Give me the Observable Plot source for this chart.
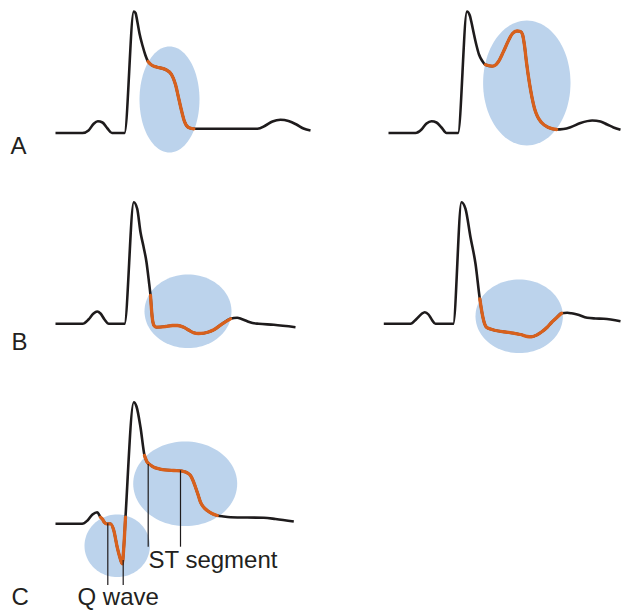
<!DOCTYPE html>
<html>
<head>
<meta charset="utf-8">
<script src="https://cdn.jsdelivr.net/npm/d3@7"></script>
<script src="https://cdn.jsdelivr.net/npm/@observablehq/plot@0.6"></script>
<style>
  html, body { margin: 0; padding: 0; background: #fff; }
  #chart svg { display: block; }
</style>
</head>
<body>
<div id="chart"></div>
<script>
// ---- ECG traces (x, y in drawing units; y grows downward) ----
// Panel A, left
const aLeftPre  = [[55,132.5],[82,132.5],[88,130],[93,123.5],[97.3,120.7],[102,122],[107,128],[111.5,132.5],[124,132.5],[133.3,11],[135,12.5],[137,22],[139,33],[142,45],[145,55],[147.5,61]];
const aLeftST   = [[147.5,61],[151,64.5],[156,66.5],[165,69],[171,74],[175,84],[178,97],[181,110],[184,121],[188,127],[193.3,128.3]];
const aLeftPost = [[193.3,128.3],[257,128.3],[265,125],[272,121],[280,119.3],[288,120.5],[296,124],[303,128],[310,130]];
// Panel A, right
const aRightPre  = [[388,132.5],[415,132.5],[421,129],[426,123],[431,120.7],[436,122],[441,127],[446,132.5],[457.5,132.5],[466.5,11],[469.3,15],[471,22],[473.3,33],[476,45],[478.5,54],[481.5,60],[485,64.3]];
const aRightST   = [[485,64.3],[491.7,65.7],[495,64.5],[498,61],[503,51],[508,40],[512,33],[516.5,30.5],[520,31],[522,34],[524,45],[526,62],[529,83],[531.5,97],[534,108],[537,116],[541,122],[548,127],[556,129]];
const aRightPost = [[556,129],[563,128.5],[570,126.7],[580,122.5],[591.7,120],[600,121],[606.7,124],[613,127],[620,129.3]];
// Panel B, left
const bLeftPre  = [[55,323.3],[82,323.3],[88,319],[93,313],[96.7,311],[100,313],[104,319],[108.3,323.3],[124,323.3],[133.3,201.7],[136.7,208.3],[140,231.7],[143,246],[146,261.7],[148.3,280],[150,295]];
const bLeftST   = [[150,295],[151.7,316.7],[153.5,325],[156,326.7],[165,326],[172,325],[177,325],[183.3,326.7],[188,329.5],[193.3,332.3],[198,333],[203.3,332.7],[208,331.5],[213.3,329.3],[221.7,323.3],[230,318.3]];
const bLeftPost = [[230,318.3],[236.7,317.3],[241,318.5],[246.7,320.7],[252,322.5],[258.3,323.3],[273.3,324.3],[295,326.7]];
// Panel B, right
const bRightPre  = [[383.3,323.3],[410,323.3],[416,318.5],[421,313.5],[424.3,311.7],[428,314],[431.5,319.5],[435,323.3],[452.7,323.3],[461,201.7],[465,208.3],[470,236.7],[475,263.3],[479.3,298.3]];
const bRightST   = [[479.3,298.3],[481.7,313.3],[484,323],[486,326.7],[490,328.5],[495,330],[505,331.5],[513.3,332.7],[520,334],[526.7,336],[531,336.3],[536.7,334.3],[541,331.5],[546.7,326.7],[551,322],[555,318.3],[561,312.7]];
const bRightPost = [[561,312.7],[566.7,312.3],[571,312.8],[576.7,314],[586.7,317.3],[595,318],[603.3,318.3],[620,320.7]];
// Panel C
const cPre   = [[55,523.3],[81.7,523.3],[87,520],[92,514],[96.7,511.7],[100,516.7]];
const cQ     = [[100,516.7],[101.7,518.3],[104,522],[106,523.3],[110,523.3],[113.3,530],[116.7,546.7],[119.3,556.7],[121.7,563.3],[123.3,546.7],[125,516.7]];
const cR     = [[125,516.7],[133.3,401.7],[136,406],[140,426.7],[144,455]];
const cST    = [[144,455],[146.7,461.7],[150,464.5],[153.3,466.7],[158,468.2],[163.3,469.3],[173.3,470],[180,470.3],[183.3,471],[187,472.5],[190,475],[192.5,480],[195,486.7],[197.5,494],[200,501.7],[203,506.5],[206.7,510],[211,512.8],[216.7,515]];
const cPost  = [[216.7,515],[223,516],[230,516.7],[263.3,517.3],[275,518.5],[293.3,521]];

// ---- highlight ellipses: center x, center y, radius x, radius y ----
const ellipseCx = [169, 526.3, 187.5, 518.7, 116.7, 184.7];
const ellipseCy = [99, 82.5, 310.8, 315.8, 545.3, 483.3];
const ellipseRx = [30, 43.7, 43.5, 43.7, 32.7, 52];
const ellipseRy = [53, 62.5, 36.8, 36.8, 31.3, 42.3];

// ---- annotation leader lines: x, y top, y bottom ----
const leaderX    = [107.3, 122.7, 147.7, 180];
const leaderTop  = [523.3, 560, 464, 470.3];
const leaderBot  = [585, 585, 546.7, 546.7];

// ---- labels ----
const labelText = ["A", "B", "C", "Q wave", "ST segment"];
const labelX    = [10, 11, 11, 77, 148];
const labelY    = [153, 349, 604.5, 604.5, 567];

// ---- build tables ----
const blackTraces = [
  {id: "aL", pts: [...aLeftPre, ...aLeftST, ...aLeftPost]},
  {id: "aR", pts: [...aRightPre, ...aRightST, ...aRightPost]},
  {id: "bL", pts: [...bLeftPre, ...bLeftST, ...bLeftPost]},
  {id: "bR", pts: [...bRightPre, ...bRightST, ...bRightPost]},
  {id: "c",  pts: [...cPre, ...cQ, ...cR, ...cST, ...cPost]}
].flatMap(t => t.pts.map(([x, y]) => ({id: t.id, x, y})));

const orangeTraces = [
  {id: "aL", pts: aLeftST}, {id: "aR", pts: aRightST},
  {id: "bL", pts: bLeftST}, {id: "bR", pts: bRightST},
  {id: "cQ", pts: cQ}, {id: "cST", pts: cST}
].flatMap(t => t.pts.map(([x, y]) => ({id: t.id, x, y})));

const ellipsePts = ellipseCx.flatMap((cx, i) =>
  d3.range(0, 96).map(k => {
    const t = (k / 96) * 2 * Math.PI;
    return {id: i, x: cx + ellipseRx[i] * Math.cos(t), y: ellipseCy[i] + ellipseRy[i] * Math.sin(t)};
  })
);

const leaders = leaderX.map((x, i) => ({x, y1: leaderTop[i], y2: leaderBot[i]}));
const labels = labelText.map((t, i) => ({t, x: labelX[i], y: labelY[i]}));

const chart = Plot.plot({
  width: 621,
  height: 610,
  margin: 0,
  style: {background: "#ffffff", overflow: "visible"},
  x: {domain: [0, 621], range: [0, 621], axis: null},
  y: {domain: [0, 610], range: [0, 610], axis: null},
  marks: [
    Plot.line(ellipsePts, {x: "x", y: "y", z: "id", curve: "linear-closed", fill: "#bcd3ec", stroke: "none"}),
    Plot.line(blackTraces, {x: "x", y: "y", z: "id", curve: "monotone-x", stroke: "#1e1b1c", strokeWidth: 2.6, strokeLinejoin: "round", strokeLinecap: "butt"}),
    Plot.line(orangeTraces, {x: "x", y: "y", z: "id", curve: "monotone-x", stroke: "#d8601c", strokeWidth: 3.3, strokeLinejoin: "round", strokeLinecap: "round"}),
    Plot.ruleX(leaders, {x: "x", y1: "y1", y2: "y2", stroke: "#1e1b1c", strokeWidth: 1.2}),
    Plot.text(labels, {x: "x", y: "y", text: "t", textAnchor: "start", lineAnchor: "bottom", fontSize: 24, fontFamily: "Liberation Sans, Arial, sans-serif", fill: "#231f20"})
  ]
});

document.getElementById("chart").appendChild(chart);
</script>
</body>
</html>
